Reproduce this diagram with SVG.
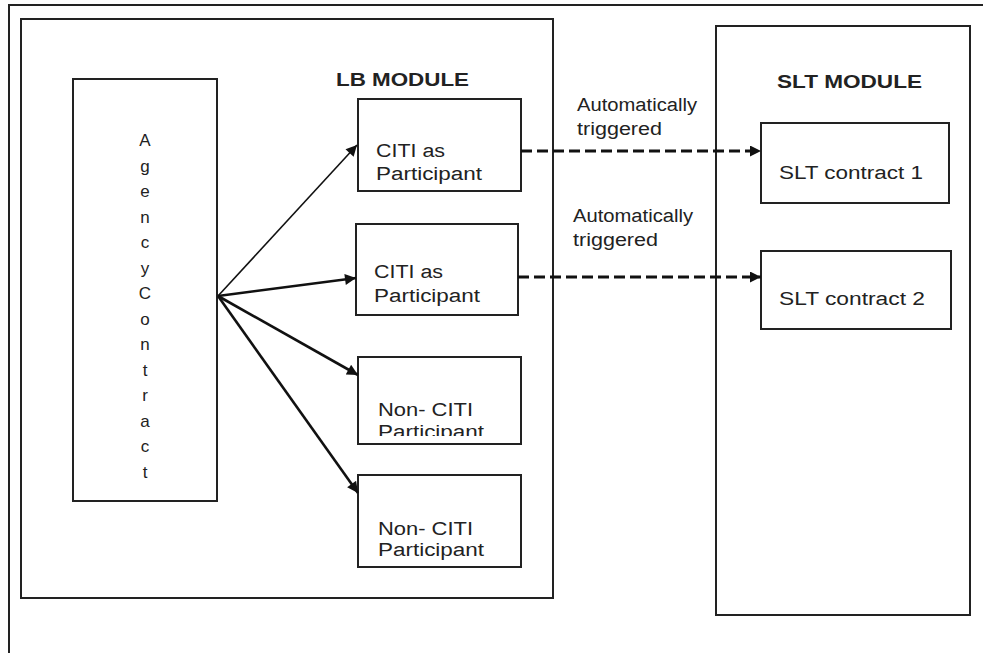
<svg xmlns="http://www.w3.org/2000/svg" width="983" height="653" viewBox="0 0 983 653">
<style>
.frame{fill:none;stroke:#222;stroke-width:2}
.box{fill:#fff;stroke:#222;stroke-width:2}
.t{font-family:"Liberation Sans",Arial,sans-serif;font-size:18px;fill:#222}
.b{font-family:"Liberation Sans",Arial,sans-serif;font-size:18px;font-weight:bold;fill:#222}
.v{font-family:"Liberation Sans",Arial,sans-serif;font-size:17px;fill:#222;text-anchor:middle}
.solid{fill:none;stroke:#111;stroke-width:2.6}
.thin{stroke-width:1.6}
.dash{fill:none;stroke:#111;stroke-width:3;stroke-dasharray:11 5}
</style>
<defs>
<marker id="ah" viewBox="0 0 10 10" refX="10" refY="5" markerWidth="13" markerHeight="11" markerUnits="userSpaceOnUse" orient="auto"><path d="M0,0 L10,5 L0,10 z" fill="#111"/></marker>
<clipPath id="clipN1"><rect x="358" y="357" width="164" height="79"/></clipPath>
</defs>
<rect width="983" height="653" fill="#fff"/>
<rect id="outer" class="frame" x="9" y="5" width="1000" height="700"/>
<g id="lb-module">
<rect class="frame" x="21" y="19" width="532" height="579"/>
<text class="b" x="336" y="86" textLength="133" lengthAdjust="spacingAndGlyphs">LB MODULE</text>
</g>
<g id="slt-module">
<rect class="frame" x="716" y="26" width="254" height="589"/>
<text class="b" x="777" y="88" textLength="145" lengthAdjust="spacingAndGlyphs">SLT MODULE</text>
</g>
<g id="agency">
<rect class="box" x="73" y="79" width="144" height="422"/>
<text class="v" x="145"><tspan x="145" y="146">A</tspan><tspan x="145" y="171.5">g</tspan><tspan x="145" y="197">e</tspan><tspan x="145" y="222.5">n</tspan><tspan x="145" y="248">c</tspan><tspan x="145" y="273.5">y</tspan><tspan x="145" y="299">C</tspan><tspan x="145" y="324.5">o</tspan><tspan x="145" y="350">n</tspan><tspan x="145" y="375.5">t</tspan><tspan x="145" y="401">r</tspan><tspan x="145" y="426.5">a</tspan><tspan x="145" y="452">c</tspan><tspan x="145" y="477.5">t</tspan></text>
</g>
<g id="citi1">
<rect class="box" x="358" y="99" width="163" height="92"/>
<text class="t" x="376" y="157" textLength="69" lengthAdjust="spacingAndGlyphs">CITI as</text>
<text class="t" x="376" y="180" textLength="106" lengthAdjust="spacingAndGlyphs">Participant</text>
</g>
<g id="citi2">
<rect class="box" x="356" y="224" width="162" height="91"/>
<text class="t" x="374" y="278" textLength="69" lengthAdjust="spacingAndGlyphs">CITI as</text>
<text class="t" x="374" y="302" textLength="106" lengthAdjust="spacingAndGlyphs">Participant</text>
</g>
<g id="nonciti1">
<rect class="box" x="358" y="357" width="163" height="87"/>
<text class="t" x="378" y="416" textLength="95" lengthAdjust="spacingAndGlyphs">Non- CITI</text>
<text class="t" x="378" y="438" textLength="106" lengthAdjust="spacingAndGlyphs" clip-path="url(#clipN1)">Participant</text>
</g>
<g id="nonciti2">
<rect class="box" x="358" y="475" width="163" height="92"/>
<text class="t" x="378" y="535" textLength="95" lengthAdjust="spacingAndGlyphs">Non- CITI</text>
<text class="t" x="378" y="556" textLength="106" lengthAdjust="spacingAndGlyphs">Participant</text>
</g>
<g id="slt1">
<rect class="box" x="761" y="123" width="188" height="80"/>
<text class="t" x="779" y="179" textLength="144" lengthAdjust="spacingAndGlyphs">SLT contract 1</text>
</g>
<g id="slt2">
<rect class="box" x="761" y="251" width="190" height="78"/>
<text class="t" x="779" y="305" textLength="146" lengthAdjust="spacingAndGlyphs">SLT contract 2</text>
</g>
<g id="labels">
<text class="t" x="577" y="111" textLength="120" lengthAdjust="spacingAndGlyphs">Automatically</text>
<text class="t" x="577" y="135" textLength="85" lengthAdjust="spacingAndGlyphs">triggered</text>
<text class="t" x="573" y="222" textLength="120" lengthAdjust="spacingAndGlyphs">Automatically</text>
<text class="t" x="573" y="246" textLength="85" lengthAdjust="spacingAndGlyphs">triggered</text>
</g>
<g id="connectors">
<path class="solid thin" d="M218,296 L357,145" marker-end="url(#ah)"/>
<path class="solid" d="M218,296 L356,278" marker-end="url(#ah)"/>
<path class="solid" d="M218,296 L358,375" marker-end="url(#ah)"/>
<path class="solid" d="M218,296 L358,493" marker-end="url(#ah)"/>
<path class="dash" d="M521,151 L761,151" marker-end="url(#ah)"/>
<path class="dash" d="M518,277 L761,277" marker-end="url(#ah)"/>
</g>
</svg>
